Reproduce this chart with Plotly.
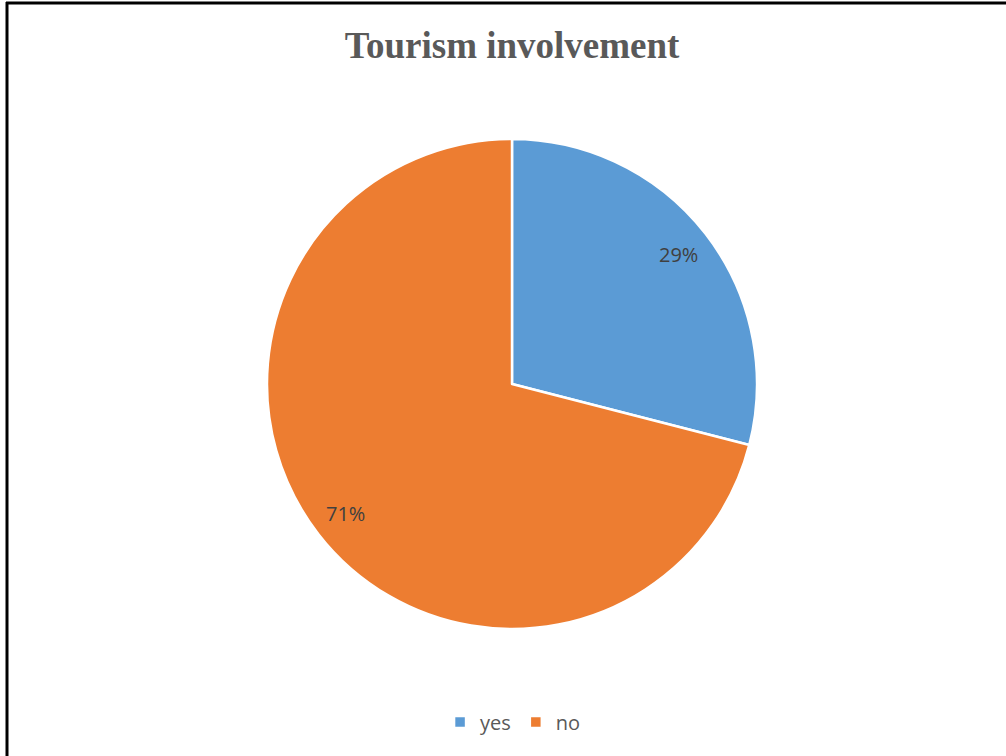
import math
import plotly.graph_objects as go

# Share of respondents involved in tourism
labels = ["yes", "no"]
values = [29, 71]
colors = ["#5B9BD5", "#ED7D31"]

W, H = 1006, 756
cx, cy, r = 512, 384, 245  # pie centre / radius in pixels

fig = go.Figure()
fig.add_trace(go.Pie(
    labels=labels,
    values=values,
    sort=False,
    direction="clockwise",
    rotation=0,
    textinfo="none",
    hoverinfo="label+percent",
    marker=dict(colors=colors, line=dict(color="white", width=2.5)),
    domain=dict(x=[(cx - r) / W, (cx + r) / W],
                y=[(H - cy - r) / H, (H - cy + r) / H]),
))

# Percentage labels placed along each slice's mid angle
total = sum(values)
start = 0.0
annotations = []
for v in values:
    mid = (start + v / 2) / total * 2 * math.pi
    start += v
    rr = 0.86 * r
    px = cx + rr * math.sin(mid)
    py = cy - rr * math.cos(mid)
    annotations.append(dict(
        x=px / W, y=1 - py / H, xref="paper", yref="paper",
        text=f"{round(v / total * 100)}%", showarrow=False,
        font=dict(family="Open Sans, Calibri, Carlito, sans-serif", size=20, color="#404040"),
        xanchor="center", yanchor="middle",
    ))

# Frame lines along the top and left edges
shapes = [
    dict(type="line", xref="paper", yref="paper", x0=6 / W, x1=1.0, y0=1 - 3 / H, y1=1 - 3 / H,
         line=dict(color="black", width=3)),
    dict(type="line", xref="paper", yref="paper", x0=7 / W, x1=7 / W, y0=0, y1=1 - 2 / H,
         line=dict(color="black", width=3)),
]

fig.update_layout(
    width=W, height=H,
    margin=dict(l=0, r=0, t=0, b=0),
    paper_bgcolor="white",
    plot_bgcolor="white",
    title=dict(text="<b>Tourism involvement</b>", x=0.509, xanchor="center",
               y=1 - 45 / H, yanchor="middle",
               font=dict(family="Liberation Serif, Times New Roman, serif", size=37, color="#595959")),
    showlegend=True,
    legend=dict(orientation="h", x=0.51, xanchor="center", y=1 - 722 / H, yanchor="middle",
                font=dict(family="Open Sans, Calibri, sans-serif", size=20, color="#595959"),
                itemwidth=30, traceorder="normal"),
    annotations=annotations,
    shapes=shapes,
)

fig.write_html("out.html")
